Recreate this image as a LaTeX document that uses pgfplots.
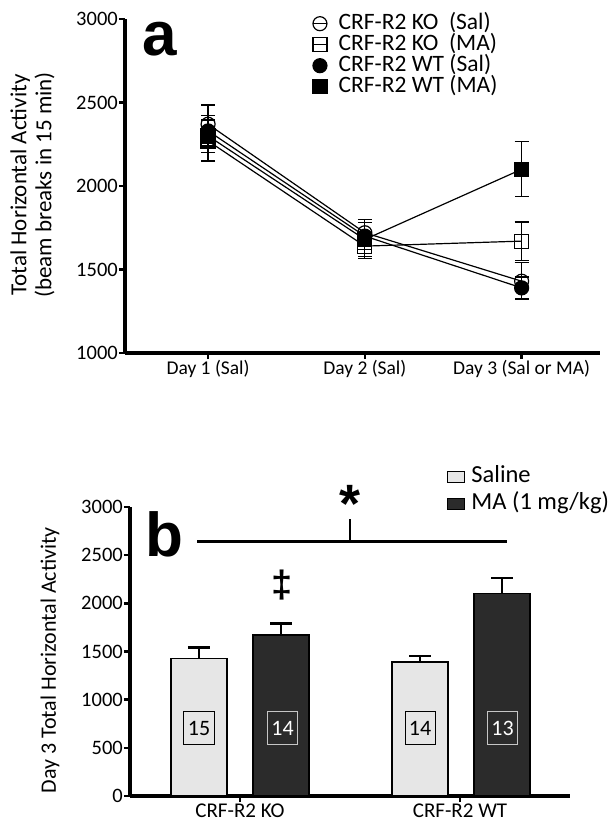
\documentclass[border=0pt]{standalone}
\usepackage{pgfplots}
\pgfplotsset{compat=1.18}
\usepackage{fontspec}
\setmainfont{Carlito}
\newfontfamily\lsans{Liberation Sans}
\definecolor{salfill}{HTML}{E6E6E6}
\definecolor{mafill}{HTML}{2B2B2B}
\begin{document}
\begin{tikzpicture}
\path[use as bounding box] (0pt,0pt) rectangle (614pt,-833pt);
\pgfplotsset{mystyle/.style={
  scale only axis, clip=false,
  axis x line*=bottom, axis y line*=left,
  axis line style={line width=3.2pt, -},
  tick style={line width=2.5pt, black},
  major tick length=6pt, tick align=outside,
  /pgf/number format/assume math mode=true,
  /pgf/number format/1000 sep={},
  tick label style={font=\fontsize{19.5}{20}\selectfont, inner sep=1.5pt},
  y tick label style={font=\fontsize{20.5}{21}\selectfont, inner sep=1pt},
}}
% ---------------- panel a ----------------
\begin{axis}[mystyle,
  at={(125pt,-353pt)}, anchor=south west,
  width=475pt, height=334pt,
  xmin=0.47, xmax=3.5, ymin=1000, ymax=3000,
  ytick={1000,1500,2000,2500,3000},
  xtick={1,2,3},
  xticklabels={Day 1 (Sal), Day 2 (Sal), Day 3 (Sal or MA)},
  ylabel={Total Horizontal Activity\\(beam breaks in 15 min)},
  ylabel style={at={(axis description cs:-0.195,0.503)}, anchor=center, align=center, font=\fontsize{23}{25}\selectfont},
  legend style={at={(0.394,1.015)}, anchor=north west, draw=none, fill=none, inner sep=0pt,
    row sep=2pt, column sep=11pt, font=\fontsize{23.5}{23.5}\selectfont,
    nodes={inner sep=0pt, text height=15pt, text depth=4pt}},
  legend cell align=left,
  legend image code/.code={\draw[mark repeat=2,mark phase=2,#1] plot coordinates {(-7pt,0pt) (0pt,0pt) (7pt,0pt)};},
  every axis plot/.append style={black, line width=1.2pt, mark size=7pt,
     mark options={solid, line width=1.2pt},
     error bars/y dir=both, error bars/y explicit,
     error bars/error bar style={line width=1.2pt},
     error bars/error mark options={rotate=90, mark size=7pt, line width=1.2pt}},
]
\addplot[mark=o, mark options={fill=none}] coordinates {(1,2370) +- (0,115) (2,1720) +- (0,80) (3,1430) +- (0,110)};
\addlegendentry{CRF-R2 KO\ \ (Sal)}
\addplot[mark=square, mark options={fill=none}] coordinates {(1,2270) +- (0,120) (2,1640) +- (0,75) (3,1670) +- (0,115)};
\addlegendentry{CRF-R2 KO\ \ (MA)}
\addplot[mark=*, mark options={fill=black}] coordinates {(1,2330) +- (0,90) (2,1700) +- (0,80) (3,1390) +- (0,65)};
\addlegendentry{CRF-R2 WT (Sal)}
\addplot[mark=square*, mark options={fill=black}] coordinates {(1,2300) +- (0,100) (2,1680) +- (0,100) (3,2100) +- (0,165)};
\addlegendentry{CRF-R2 WT (MA)}
\end{axis}
\node[anchor=base west, inner sep=0pt, font=\lsans\bfseries\fontsize{62}{62}\selectfont] at (142pt,-55pt) {a};
% ---------------- panel b ----------------
\begin{axis}[mystyle,
  at={(130pt,-796pt)}, anchor=south west,
  width=440pt, height=289pt,
  xmin=130, xmax=570, ymin=0, ymax=3000,
  ytick={0,500,1000,1500,2000,2500,3000},
  xtick={240,460},
  xticklabels={CRF-R2 KO, CRF-R2 WT},
  x tick label style={font=\fontsize{21}{21}\selectfont},
  ylabel={Day 3 Total Horizontal Activity},
  ylabel style={at={(axis description cs:-0.182,0.47)}, anchor=center, font=\fontsize{22}{22}\selectfont},
  legend style={at={(0.7205,1.142)}, anchor=north west, draw=none, fill=none, inner sep=0pt,
    row sep=5.5pt, column sep=6pt, font=\fontsize{24.5}{24.5}\selectfont,
    nodes={inner sep=0pt, text height=16.5pt, text depth=5pt}},
  legend cell align=left,
  legend image code/.code={\draw[#1, line width=1.2pt] (0pt,-5.5pt) rectangle (17pt,5.5pt);},
  bar width=56,
]
\addplot[ybar, bar shift=0pt, fill=salfill, draw=black, line width=1.5pt,
  error bars/.cd, y dir=plus, y explicit,
  error bar style={line width=2.5pt, black},
  error mark options={rotate=90, mark size=11pt, line width=2.5pt, black}]
  coordinates {(199,1430) +- (0,112) (420,1390) +- (0,65)};
\addlegendentry{Saline}
\addplot[ybar, bar shift=0pt, fill=mafill, draw=black, line width=1.5pt,
  error bars/.cd, y dir=plus, y explicit,
  error bar style={line width=2.5pt, black},
  error mark options={rotate=90, mark size=11pt, line width=2.5pt, black}]
  coordinates {(281,1672) +- (0,120) (502,2100) +- (0,163)};
\addlegendentry{MA (1 mg/kg)}
\draw[line width=2.5pt] (axis cs:197,2640) -- (axis cs:507,2640);
\draw[line width=2.5pt] (axis cs:350,2640) -- (axis cs:350,2880);
\node[anchor=north, inner sep=0pt, font=\lsans\bfseries\fontsize{54}{54}\selectfont] at (axis cs:350,3229) {*};
\node[anchor=north, inner sep=0pt, font=\lsans\bfseries\fontsize{38}{38}\selectfont] at (axis cs:282,2347) {‡};
\node[draw=black, line width=1pt, minimum width=30pt, minimum height=33pt, inner sep=0pt, font=\fontsize{22}{22}\selectfont] at (axis cs:199,706) {15};
\node[draw=gray!45, text=white, line width=1pt, minimum width=30pt, minimum height=33pt, inner sep=0pt, font=\fontsize{22}{22}\selectfont] at (axis cs:282.5,706) {14};
\node[draw=black, line width=1pt, minimum width=30pt, minimum height=33pt, inner sep=0pt, font=\fontsize{22}{22}\selectfont] at (axis cs:420,706) {14};
\node[draw=gray!45, text=white, line width=1pt, minimum width=30pt, minimum height=33pt, inner sep=0pt, font=\fontsize{22}{22}\selectfont] at (axis cs:502.5,706) {13};
\end{axis}
\node[anchor=base west, inner sep=0pt, font=\lsans\bfseries\fontsize{62}{62}\selectfont] at (145pt,-556pt) {b};
\end{tikzpicture}
\end{document}
